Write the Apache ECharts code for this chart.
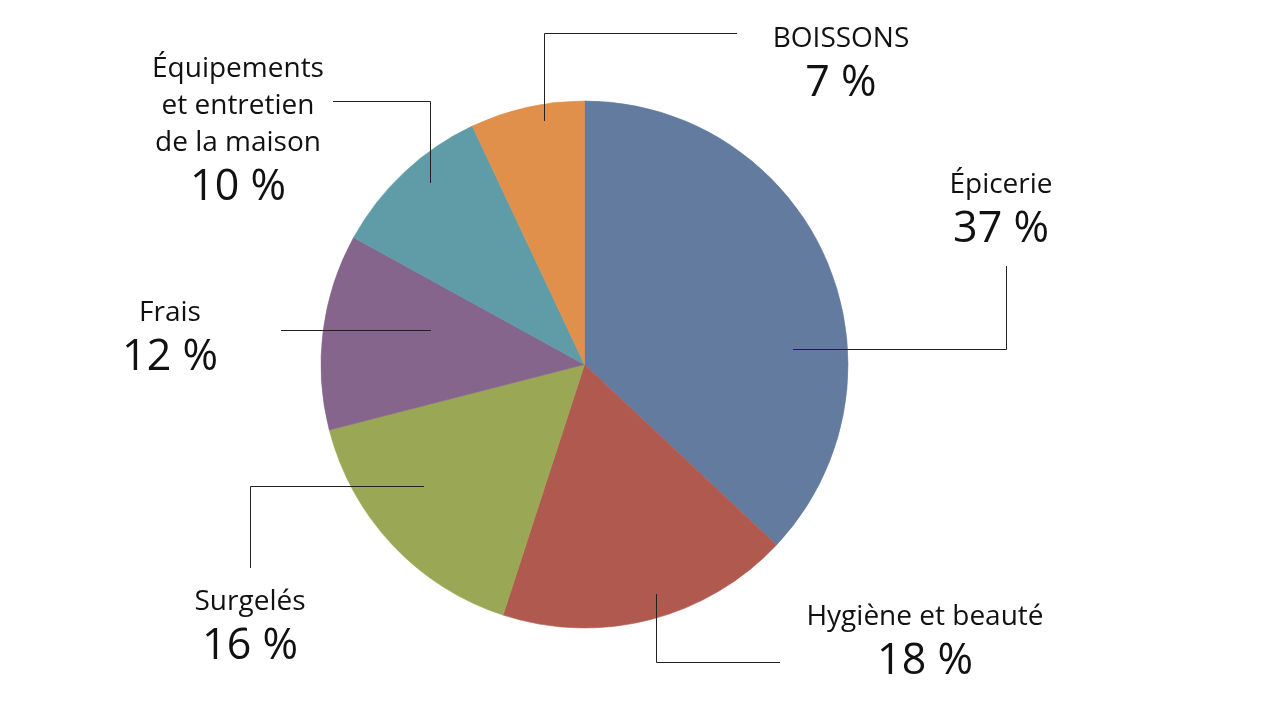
<!DOCTYPE html>
<html>
<head>
<meta charset="utf-8">
<script src="https://cdn.jsdelivr.net/npm/echarts@6/dist/echarts.min.js"></script>
<style>
html,body{margin:0;padding:0;background:#fff;}
#chart{width:1280px;height:720px;}
</style>
</head>
<body>
<div id="chart"></div>
<script>
// Data
const categories = ['Épicerie', 'Hygiène et beauté', 'Surgelés', 'Frais', 'Équipements\net entretien\nde la maison', 'BOISSONS'];
const values = [37, 18, 16, 12, 10, 7];
const colors = ['#647ba0', '#b05a4f', '#9aa856', '#85658c', '#5f9ca8', '#e0904a'];

// Label placement (label centre + leader line points), in pixels
const labelPos = [
  {x: 1001, y: 211, line: [[793, 349.5], [1006.5, 349.5], [1006.5, 266]]},
  {x: 925, y: 643, line: [[656.5, 594], [656.5, 662.5], [780, 662.5]]},
  {x: 250, y: 628, line: [[424, 486.5], [250.5, 486.5], [250.5, 568]]},
  {x: 170, y: 339, line: [[431, 330.5], [356, 330.5], [281, 330.5]]},
  {x: 238, y: 132, line: [[430.5, 183], [430.5, 101.5], [333, 101.5]]},
  {x: 841, y: 65, line: [[544.5, 121], [544.5, 33.5], [737, 33.5]]}
];

const pieBase = {
  type: 'pie',
  center: [584.5, 364.5],
  radius: 263.5,
  startAngle: 90,
  clockwise: true,
  avoidLabelOverlap: false,
  emphasis: {disabled: true},
  silent: true
};

const chart = echarts.init(document.getElementById('chart'), null, {renderer: 'canvas'});
chart.setOption({
  backgroundColor: '#ffffff',
  animation: false,
  series: [
    Object.assign({}, pieBase, {
      z: 2,
      data: categories.map((c, i) => ({name: c, value: values[i],
        itemStyle: {color: colors[i], borderColor: colors[i], borderWidth: 0.6}})),
      label: {show: false},
      labelLine: {show: false}
    }),
    Object.assign({}, pieBase, {
      z: 3,
      data: categories.map((c, i) => ({name: c, value: values[i]})),
      itemStyle: {color: 'rgba(0,0,0,0)', borderWidth: 0},
      label: {
        show: true,
        position: 'outside',
        formatter: p => p.name.split('\n').map(s => '{n|' + s + '}').join('\n') + '\n{p|' + p.value + ' %}',
        rich: {
          n: {fontFamily: 'Open Sans', fontSize: 28, lineHeight: 37, color: '#111', align: 'center'},
          p: {fontFamily: 'Open Sans', fontSize: 43, lineHeight: 52, color: '#111', align: 'center'}
        }
      },
      labelLine: {
        show: true,
        lineStyle: {color: '#222', width: 1}
      },
      labelLayout: function (params) {
        const lp = labelPos[params.dataIndex];
        return {
          x: lp.x,
          y: lp.y,
          align: 'center',
          verticalAlign: 'middle',
          labelLinePoints: lp.line,
          hideOverlap: false,
          moveOverlap: null
        };
      }
    })
  ]
});
</script>
</body>
</html>
